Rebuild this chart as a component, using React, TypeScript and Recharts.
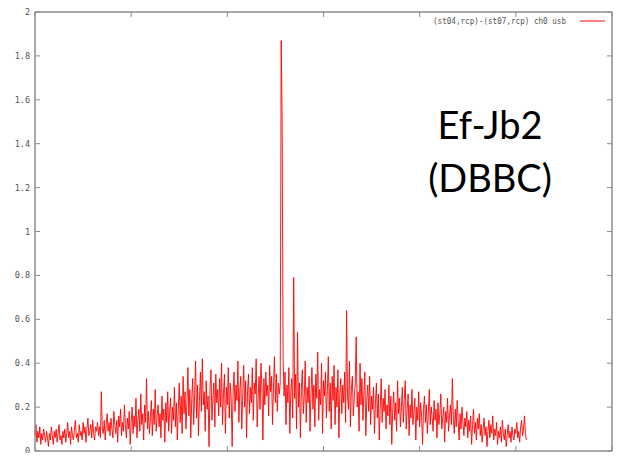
import { LineChart, Line, XAxis, YAxis, ReferenceLine } from 'recharts'

// channel axis (every second channel of a 1024-channel spectrum)
const channelStep = 2
const xTicks = [0, 200, 400, 600, 800, 1000, 1200]
const yTicks = [0, 0.2, 0.4, 0.6, 0.8, 1, 1.2, 1.4, 1.6, 1.8, 2]

const legendLabel = '(st04,rcp)-(st07,rcp) ch0 usb'
const titleLines = ['Ef-Jb2', '(DBBC)']

// amplitude, channels 0-254
const ampBand1 = [
  0.07, 0.12, 0.04, 0.09, 0.06, 0.11, 0.03, 0.08, 0.05, 0.10, 0.07, 0.04, 0.09, 0.06, 0.02, 0.08,
  0.05, 0.11, 0.07, 0.03, 0.09, 0.06, 0.10, 0.04, 0.08, 0.12, 0.05, 0.07, 0.03, 0.09, 0.06, 0.10,
  0.04, 0.08, 0.13, 0.06, 0.09, 0.03, 0.11, 0.07, 0.05, 0.10, 0.14, 0.06, 0.08, 0.04, 0.12, 0.07,
  0.09, 0.05, 0.13, 0.08, 0.11, 0.04, 0.10, 0.15, 0.07, 0.09, 0.12, 0.06, 0.14, 0.08, 0.05, 0.11,
  0.09, 0.13, 0.07, 0.11, 0.06, 0.27, 0.10, 0.08, 0.14, 0.05, 0.12, 0.17, 0.09, 0.13, 0.07, 0.15,
  0.10, 0.06, 0.18, 0.12, 0.08, 0.14, 0.04, 0.16, 0.11, 0.19, 0.07, 0.13, 0.09, 0.21, 0.12, 0.06,
  0.15, 0.10, 0.18, 0.03, 0.13, 0.20, 0.08, 0.16, 0.11, 0.24, 0.06, 0.14, 0.19, 0.09, 0.26, 0.12,
  0.17, 0.05, 0.21, 0.13, 0.33, 0.10, 0.18, 0.08, 0.15, 0.23, 0.07, 0.19, 0.12, 0.28, 0.09, 0.16,
]

// amplitude, channels 256-510
const ampBand2 = [
  0.21, 0.11, 0.17, 0.06, 0.25, 0.14, 0.19, 0.04, 0.22, 0.13, 0.27, 0.09, 0.18, 0.24, 0.08, 0.20,
  0.14, 0.29, 0.11, 0.22, 0.05, 0.19, 0.31, 0.13, 0.25, 0.08, 0.34, 0.17, 0.27, 0.10, 0.22, 0.38,
  0.16, 0.28, 0.06, 0.24, 0.33, 0.12, 0.26, 0.41, 0.15, 0.30, 0.07, 0.23, 0.36, 0.18, 0.42, 0.21,
  0.27, 0.09, 0.32, 0.19, 0.25, 0.02, 0.29, 0.37, 0.14, 0.24, 0.31, 0.11, 0.35, 0.22, 0.28, 0.16,
  0.33, 0.20, 0.40, 0.12, 0.26, 0.35, 0.08, 0.29, 0.21, 0.38, 0.15, 0.31, 0.24, 0.02, 0.27, 0.36,
  0.18, 0.30, 0.23, 0.41, 0.13, 0.28, 0.34, 0.10, 0.25, 0.39, 0.20, 0.32, 0.06, 0.27, 0.35, 0.17,
  0.29, 0.22, 0.38, 0.14, 0.31, 0.26, 0.42, 0.11, 0.24, 0.34, 0.19, 0.40, 0.28, 0.05, 0.33, 0.21,
  0.36, 0.25, 0.30, 0.16, 0.39, 0.27, 0.34, 0.12, 0.29, 0.43, 0.22, 0.35, 0.18, 0.31, 0.26, 0.31,
]

// amplitude, channels 512-766 (the strong line sits at 512)
const ampBand3 = [
  1.87, 1.51, 0.42, 0.25, 0.36, 0.12, 0.30, 0.22, 0.38, 0.08, 0.27, 0.33, 0.15, 0.79, 0.24, 0.35,
  0.10, 0.54, 0.20, 0.31, 0.06, 0.28, 0.37, 0.17, 0.25, 0.41, 0.13, 0.29, 0.22, 0.34, 0.09, 0.26,
  0.38, 0.19, 0.30, 0.11, 0.35, 0.24, 0.45, 0.14, 0.28, 0.21, 0.40, 0.08, 0.32, 0.25, 0.36, 0.15,
  0.27, 0.43, 0.18, 0.31, 0.10, 0.34, 0.23, 0.39, 0.12, 0.29, 0.20, 0.37, 0.06, 0.26, 0.33, 0.17,
  0.30, 0.22, 0.36, 0.13, 0.64, 0.25, 0.19, 0.41, 0.11, 0.28, 0.34, 0.16, 0.24, 0.31, 0.52, 0.20,
  0.27, 0.09, 0.40, 0.21, 0.33, 0.14, 0.26, 0.36, 0.07, 0.23, 0.30, 0.18, 0.34, 0.12, 0.25, 0.19,
  0.29, 0.08, 0.22, 0.31, 0.15, 0.26, 0.05, 0.20, 0.33, 0.13, 0.24, 0.18, 0.28, 0.10, 0.21, 0.16,
  0.30, 0.12, 0.25, 0.03, 0.19, 0.27, 0.14, 0.22, 0.09, 0.32, 0.17, 0.24, 0.11, 0.20, 0.29, 0.13,
]

// amplitude, channels 768-1022
const ampBand4 = [
  0.23, 0.32, 0.10, 0.19, 0.26, 0.07, 0.21, 0.15, 0.28, 0.12, 0.18, 0.24, 0.05, 0.20, 0.14, 0.27,
  0.11, 0.22, 0.16, 0.03, 0.19, 0.25, 0.13, 0.21, 0.08, 0.17, 0.28, 0.12, 0.20, 0.15, 0.09, 0.23,
  0.14, 0.19, 0.06, 0.22, 0.12, 0.17, 0.26, 0.10, 0.15, 0.20, 0.04, 0.18, 0.13, 0.24, 0.09, 0.16,
  0.21, 0.12, 0.33, 0.15, 0.08, 0.19, 0.11, 0.23, 0.14, 0.05, 0.17, 0.10, 0.20, 0.13, 0.07, 0.15,
  0.11, 0.18, 0.06, 0.14, 0.09, 0.16, 0.03, 0.12, 0.19, 0.08, 0.13, 0.05, 0.15, 0.10, 0.17, 0.07,
  0.12, 0.04, 0.10, 0.15, 0.07, 0.11, 0.02, 0.09, 0.14, 0.06, 0.12, 0.08, 0.16, 0.05, 0.10, 0.07,
  0.13, 0.03, 0.09, 0.06, 0.11, 0.04, 0.14, 0.08, 0.05, 0.10, 0.02, 0.07, 0.12, 0.06, 0.09, 0.04,
  0.11, 0.07, 0.05, 0.10, 0.08, 0.13, 0.06, 0.09, 0.04, 0.11, 0.14, 0.07, 0.10, 0.16, 0.08, 0.05,
]

const amplitude = [...ampBand1, ...ampBand2, ...ampBand3, ...ampBand4]
const data = amplitude.map((v, i) => ({ ch: i * channelStep, amp: v }))

const W = 624
const H = 461
const PLOT_LEFT = 35
const PLOT_TOP = 12
const PLOT_RIGHT = 612
const PLOT_BOTTOM = 451

const axisColor = '#8c8c8c'
const labelColor = '#555'
const tickFont = '"DejaVu Sans Mono", monospace'
const red = '#ff0000'

// gnuplot style: ticks point inward and are mirrored on the top border
const BottomTick = (props: any) => {
  const { x, payload } = props
  return (
    <g>
      <line x1={x} x2={x} y1={PLOT_BOTTOM} y2={PLOT_BOTTOM - 5} stroke={axisColor} />
      <line x1={x} x2={x} y1={PLOT_TOP} y2={PLOT_TOP + 5} stroke={axisColor} />
      <text x={x} y={PLOT_BOTTOM + 15} textAnchor="middle" fontSize={8.5} fontFamily={tickFont} fill={labelColor}>
        {payload.value}
      </text>
    </g>
  )
}

// ...and mirrored on the right border
const LeftTick = (props: any) => {
  const { y, payload } = props
  return (
    <g>
      <line x1={PLOT_LEFT} x2={PLOT_LEFT + 5} y1={y} y2={y} stroke={axisColor} />
      <line x1={PLOT_RIGHT} x2={PLOT_RIGHT - 5} y1={y} y2={y} stroke={axisColor} />
      <text x={PLOT_LEFT - 5} y={y + 3} textAnchor="end" fontSize={8.5} fontFamily={tickFont} fill={labelColor}>
        {String(payload.value)}
      </text>
    </g>
  )
}

export default function App() {
  return (
    <div style={{ position: 'relative', width: W, height: H, margin: -8, background: '#fff', overflow: 'hidden' }}>
      <LineChart
        width={W}
        height={H}
        data={data}
        margin={{ top: PLOT_TOP, right: W - PLOT_RIGHT, bottom: 0, left: 0 }}
      >
        <XAxis
          dataKey="ch"
          type="number"
          domain={[0, 1200]}
          ticks={xTicks}
          height={H - PLOT_BOTTOM}
          tick={<BottomTick />}
          tickLine={false}
          axisLine={{ stroke: axisColor, strokeWidth: 1.5 }}
          interval={0}
        />
        <YAxis
          type="number"
          domain={[0, 2]}
          ticks={yTicks}
          width={PLOT_LEFT}
          tick={<LeftTick />}
          tickLine={false}
          axisLine={{ stroke: axisColor, strokeWidth: 1.5 }}
          interval={0}
        />
        {/* top and right border of the frame */}
        <ReferenceLine y={2} stroke={axisColor} strokeWidth={1.5} />
        <ReferenceLine x={1200} stroke={axisColor} strokeWidth={1.5} />
        <Line
          type="linear"
          dataKey="amp"
          stroke={red}
          strokeWidth={0.9}
          dot={false}
          isAnimationActive={false}
        />
      </LineChart>

      {/* key, top right like gnuplot */}
      <svg width={200} height={16} style={{ position: 'absolute', left: 420, top: 14 }}>
        <text
          x={13}
          y={10}
          textLength={133}
          lengthAdjust="spacingAndGlyphs"
          fontSize={8.5}
          fontFamily={tickFont}
          fill={labelColor}
        >
          {legendLabel}
        </text>
        <line x1={160} x2={185} y1={7} y2={7} stroke={red} strokeWidth={1} />
      </svg>

      {/* annotation */}
      <div
        style={{
          position: 'absolute',
          top: 98,
          left: 390,
          width: 200,
          textAlign: 'center',
          fontFamily: 'Lato, "Open Sans", sans-serif',
          fontSize: 38,
          lineHeight: '53px',
          color: '#000',
        }}
      >
        {titleLines.map(t => (
          <div key={t}>{t}</div>
        ))}
      </div>
    </div>
  )
}
